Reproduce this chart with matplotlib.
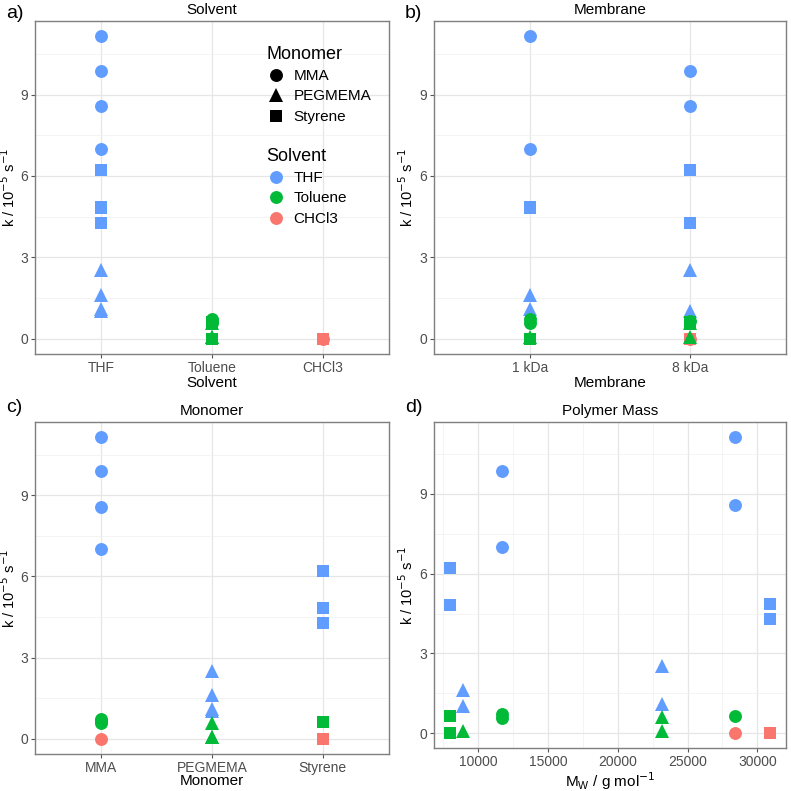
import matplotlib.pyplot as plt
from matplotlib.lines import Line2D

plt.rcParams['font.family'] = ['Liberation Sans', 'DejaVu Sans']

# one entry per measurement (drawing order follows this order)
solvent = ['THF', 'THF', 'THF', 'THF', 'THF', 'THF', 'THF', 'THF', 'THF', 'THF', 'THF', 'THF',
           'Toluene', 'Toluene', 'CHCl3', 'CHCl3',
           'Toluene', 'Toluene', 'Toluene', 'Toluene', 'Toluene', 'Toluene']
membrane = ['1 kDa', '8 kDa', '8 kDa', '1 kDa', '8 kDa', '1 kDa', '1 kDa', '8 kDa', '8 kDa', '1 kDa', '1 kDa', '8 kDa',
            '8 kDa', '1 kDa', '8 kDa', '8 kDa',
            '1 kDa', '1 kDa', '8 kDa', '1 kDa', '8 kDa', '8 kDa']
monomer = ['MMA', 'MMA', 'MMA', 'MMA', 'Styrene', 'Styrene', 'Styrene', 'Styrene',
           'PEGMEMA', 'PEGMEMA', 'PEGMEMA', 'PEGMEMA',
           'Styrene', 'Styrene', 'MMA', 'Styrene',
           'MMA', 'MMA', 'MMA', 'PEGMEMA', 'PEGMEMA', 'PEGMEMA']
mw = [28400, 11700, 28400, 11700, 8000, 8000, 30900, 30900, 23200, 8900, 23200, 8900,
      8000, 8000, 28400, 30900,
      11700, 11700, 28400, 8900, 23200, 23200]
k = [11.15, 9.88, 8.57, 7.0, 6.22, 4.82, 4.85, 4.28, 2.52, 1.63, 1.1, 1.02,
     0.63, 0.0, 0.0, 0.0,
     0.72, 0.58, 0.65, 0.08, 0.6, 0.08]

solvent_levels = ['THF', 'Toluene', 'CHCl3']
membrane_levels = ['1 kDa', '8 kDa']
monomer_levels = ['MMA', 'PEGMEMA', 'Styrene']

colors = {'THF': '#619CFF', 'Toluene': '#00BA38', 'CHCl3': '#F8766D'}
shapes = {'MMA': 'o', 'PEGMEMA': '^', 'Styrene': 's'}
sizes = {'o': 9.3, '^': 9.8, 's': 8.4}

fig = plt.figure(figsize=(7.91, 7.91), dpi=100)
W = H = 791.0


def make_ax(l, t, r, b):
    return fig.add_axes([l / W, 1 - b / H, (r - l) / W, (b - t) / H])


def style(ax, title, xlabel, ylab_x):
    ax.set_facecolor('white')
    for s in ax.spines.values():
        s.set_color('#7f7f7f')
        s.set_linewidth(1.0)
    ax.set_ylim(-0.5575, 11.7075)
    ax.set_yticks([0, 3, 6, 9])
    ax.set_yticks([1.5, 4.5, 7.5, 10.5], minor=True)
    ax.grid(True, which='major', color='#e6e6e6', linewidth=0.9, zorder=0)
    ax.grid(True, which='minor', axis='y', color='#f0f0f0', linewidth=0.5, zorder=0)
    ax.set_axisbelow(True)
    ax.tick_params(which='major', length=3, color='#555555', labelcolor='#4d4d4d',
                   labelsize=10, pad=2)
    ax.tick_params(which='minor', length=0)
    ax.set_title(title, fontsize=11, pad=5)
    ax.set_xlabel(xlabel, fontsize=11, labelpad=1)
    ax.set_ylabel(r'k / 10$^{-5}$ s$^{-1}$', fontsize=10.5)
    ax.yaxis.set_label_coords(ylab_x, 0.5)


def scatter_points(ax, xs):
    for i in range(len(k)):
        m = shapes[monomer[i]]
        ax.plot(xs[i], k[i], marker=m, color=colors[solvent[i]], markersize=sizes[m],
                linestyle='none', markeredgewidth=0, zorder=3)


def categorical(ax, values, levels):
    xs = [levels.index(v) + 1 for v in values]
    scatter_points(ax, xs)
    ax.set_xlim(0.4, len(levels) + 0.6)
    ax.set_xticks(range(1, len(levels) + 1))
    ax.set_xticklabels(levels)


# a) Solvent
ax_a = make_ax(35, 21, 389, 354)
style(ax_a, 'Solvent', 'Solvent', -0.047)
categorical(ax_a, solvent, solvent_levels)

# b) Membrane
ax_b = make_ax(434, 21, 786, 354)
style(ax_b, 'Membrane', 'Membrane', -0.05)
categorical(ax_b, membrane, membrane_levels)

# c) Monomer
ax_c = make_ax(35, 422, 389, 754)
style(ax_c, 'Monomer', 'Monomer', -0.047)
categorical(ax_c, monomer, monomer_levels)
ax_c.xaxis.labelpad = -1

# d) Polymer Mass
ax_d = make_ax(434, 422, 786, 748)
style(ax_d, 'Polymer Mass', r'M$_\mathregular{W}$ / g mol$^{-1}$', -0.05)
scatter_points(ax_d, mw)
span = max(mw) - min(mw)
ax_d.set_xlim(min(mw) - 0.05 * span, max(mw) + 0.05 * span)
ax_d.set_xticks([10000, 15000, 20000, 25000, 30000])
ax_d.set_xticks([7500, 12500, 17500, 22500, 27500], minor=True)
ax_d.grid(True, which='minor', axis='x', color='#f0f0f0', linewidth=0.5, zorder=0)

# panel letters
for lab, x, y in [('a)', 6, 14), ('b)', 405, 14), ('c)', 6, 408), ('d)', 405, 408)]:
    fig.text(x / W, 1 - y / H, lab, fontsize=14, va='center', ha='left')

# legends inside panel a
leg_kw = dict(loc='upper left', bbox_transform=fig.transFigure, frameon=False,
              fontsize=11, title_fontsize=13, alignment='left', handletextpad=0.55,
              labelspacing=0.42, borderpad=0, handlelength=1.2)
shape_handles = [Line2D([], [], marker=shapes[m], color='black', linestyle='none',
                        markersize=sizes[shapes[m]], markeredgewidth=0) for m in monomer_levels]
leg1 = ax_a.legend(shape_handles, monomer_levels, title='Monomer',
                   bbox_to_anchor=(259 / W, 1 - 38 / H), **leg_kw)
ax_a.add_artist(leg1)
col_handles = [Line2D([], [], marker='o', color=colors[s], linestyle='none',
                      markersize=sizes['o'], markeredgewidth=0) for s in solvent_levels]
leg2 = ax_a.legend(col_handles, solvent_levels, title='Solvent',
                   bbox_to_anchor=(259 / W, 1 - 140 / H), **leg_kw)

fig.savefig('out.png', dpi=100, facecolor='white')
